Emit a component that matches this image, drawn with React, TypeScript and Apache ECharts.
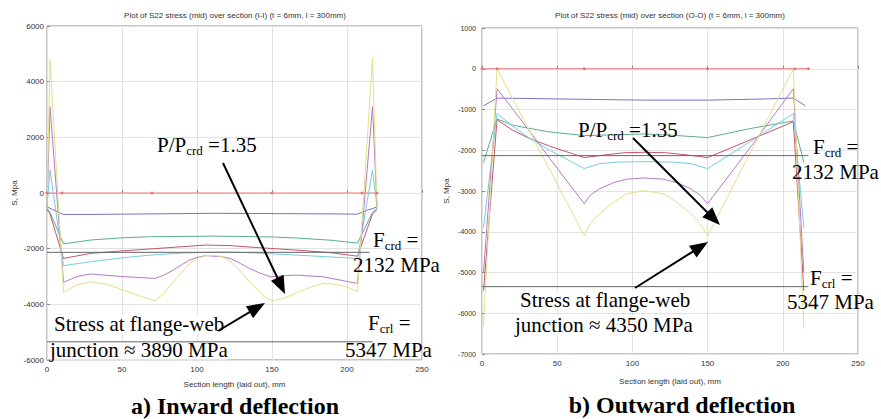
import React, { useEffect, useRef } from "react";
import * as echarts from "echarts";

// ---- Section (I-I): inward deflection, S22 stress [x (mm), S (MPa)] ----
const inwardZero = [[0, 0], [10, 0], [70, 0], [150, 0], [210, 0], [220, 0]];
const inwardPurple = [[0, -500], [2, -550], [11, -770], [30, -770], [70, -750], [110, -730], [150, -740], [190, -750], [207, -760], [214, -610], [218, -540], [220, -500]];
const inwardGreen = [[0, -550], [2, -700], [11, -1830], [29, -1690], [50, -1610], [69, -1570], [110, -1550], [129, -1560], [150, -1580], [167, -1620], [190, -1700], [207, -1800], [217, -700], [220, -550]];
const inwardRed = [[0, -600], [2, -750], [11, -2350], [29, -2170], [50, -2080], [69, -2010], [90, -1930], [106, -1870], [122, -1890], [140, -1960], [166, -2050], [190, -2150], [207, -2270], [217, -750], [220, -600]];
const inwardCyan = [[0, -500], [2, 830], [11, -2610], [29, -2470], [50, -2330], [69, -2230], [90, -2160], [106, -2130], [122, -2120], [140, -2160], [166, -2230], [190, -2300], [207, -2350], [217, 830], [220, -500]];
const inwardMagenta = [[0, -500], [2, 3100], [11, -3210], [20, -3000], [29, -2910], [50, -3000], [72, -3070], [78, -2950], [84, -2770], [90, -2570], [95, -2410], [101, -2300], [106, -2250], [117, -2290], [122, -2350], [129, -2530], [135, -2710], [142, -2880], [149, -3010], [166, -2950], [184, -3010], [207, -3250], [217, 3100], [220, -500]];
const inwardYellow = [[0, -500], [2, 4800], [11, -3570], [20, -3300], [29, -3190], [40, -3280], [51, -3490], [62, -3700], [72, -3880], [78, -3600], [84, -3190], [90, -2850], [95, -2530], [101, -2330], [106, -2250], [112, -2240], [117, -2290], [122, -2450], [129, -2800], [135, -3190], [141, -3500], [146, -3790], [151, -3860], [158, -3780], [166, -3600], [175, -3400], [184, -3250], [192, -3280], [200, -3370], [207, -3550], [217, 4850], [220, -500]];

// ---- Section (O-O): outward deflection ----
const outwardZero = [[0, 0], [10, 0], [68, 0], [150, 0], [208, 0], [217, 0]];
const outwardPurple = [[1, -910], [10, -720], [30, -730], [68, -750], [108, -770], [150, -770], [190, -740], [207, -720], [215, -910]];
const outwardGreen = [[1, -2300], [10, -1230], [20, -1380], [31, -1460], [45, -1550], [68, -1640], [90, -1620], [108, -1600], [130, -1640], [150, -1690], [178, -1470], [207, -1280], [214, -2300]];
const outwardRed = [[1, -5450], [10, -1250], [20, -1500], [31, -1700], [45, -1900], [68, -2180], [85, -2100], [95, -2060], [108, -2050], [122, -2060], [135, -2110], [150, -2180], [178, -1750], [207, -1300], [214, -5450]];
const outwardCyan = [[1, -3900], [10, -1100], [20, -1400], [31, -1690], [45, -2000], [68, -2450], [78, -2330], [90, -2290], [108, -2280], [127, -2290], [139, -2330], [150, -2450], [178, -1800], [207, -1100], [214, -3900]];
const outwardMagenta = [[1, -5000], [10, -490], [31, -1500], [45, -2200], [68, -3310], [72, -3100], [78, -2950], [87, -2800], [96, -2710], [108, -2680], [121, -2710], [130, -2800], [139, -2950], [145, -3100], [150, -3310], [178, -1950], [207, -490], [214, -5000]];
const outwardYellow = [[1, -6300], [10, 0], [68, -4100], [72, -3800], [78, -3560], [87, -3290], [96, -3070], [108, -2990], [121, -3070], [130, -3290], [139, -3560], [145, -3800], [150, -4100], [207, 0], [214, -6380]];

// Critical stresses (MPa)
const fcrd = 2132;
const fcrl = 5347;

const inwardTicksY = { min: -6000, max: 6000, interval: 2000 };
const outwardTicksY = { min: -7000, max: 1000, interval: 1000 };
const xTicks = { min: 0, max: 250, interval: 50 };

const curveColors = ["#7a72c9", "#5aae92", "#c4566e", "#76cde0", "#b679c9", "#e0e088"];
const zeroColor = "#e8747c";
const refColor = "#666666";

const SANS = "Liberation Sans";
const SERIF_STACK = "'Liberation Serif', 'Times New Roman', serif";
const MAIN_FONT = `21px ${SERIF_STACK}`;
const SUB_FONT = `13px ${SERIF_STACK}`;

let measureCtx: CanvasRenderingContext2D | null = null;
function textWidth(text: string, font: string) {
  if (!measureCtx) measureCtx = document.createElement("canvas").getContext("2d");
  if (!measureCtx) return text.length * 9;
  measureCtx.font = font;
  return measureCtx.measureText(text).width;
}

function arrow(x1: number, y1: number, x2: number, y2: number) {
  const dx = x2 - x1;
  const dy = y2 - y1;
  const len = Math.hypot(dx, dy);
  const ux = dx / len;
  const uy = dy / len;
  const hl = 18;
  const hw = 7;
  const bx = x2 - ux * hl;
  const by = y2 - uy * hl;
  const px = -uy;
  const py = ux;
  return [
    { type: "line", z: 20, shape: { x1, y1, x2: bx + ux * 2, y2: by + uy * 2 }, style: { stroke: "#000", lineWidth: 2 } },
    {
      type: "polygon",
      z: 20,
      shape: { points: [[x2, y2], [bx + px * hw, by + py * hw], [bx - px * hw, by - py * hw]] },
      style: { fill: "#000" },
    },
  ];
}

// A line of serif text; parts flagged true are set as subscripts.
function label(parts: [string, boolean][], x: number, y: number, bg?: string) {
  const out: any[] = [];
  let cx = x;
  for (const [t, sub] of parts) {
    const font = sub ? SUB_FONT : MAIN_FONT;
    out.push({
      type: "text",
      z: bg ? 1 : 20,
      x: cx,
      y: sub ? y + 5 : y,
      style: {
        text: t,
        font,
        lineHeight: sub ? 13 : 19,
        fill: "#000",
        align: "left",
        verticalAlign: "middle",
        backgroundColor: bg,
      },
    });
    cx += textWidth(t, font);
  }
  return out;
}

function smallText(text: string, x: number, y: number) {
  return {
    type: "text",
    z: 20,
    x,
    y,
    style: { text, font: `8px '${SANS}'`, fill: "#333", align: "center", verticalAlign: "middle" },
  };
}

function curveSeries(data: number[][], color: string, idx: number) {
  return {
    type: "line",
    xAxisIndex: idx,
    yAxisIndex: idx,
    data,
    showSymbol: false,
    lineStyle: { color, width: 1 },
    itemStyle: { color },
    z: 3,
  };
}

function refSeries(value: number, xEnd: number, idx: number) {
  return {
    type: "line",
    xAxisIndex: idx,
    yAxisIndex: idx,
    data: [[0, -value], [xEnd, -value]],
    showSymbol: false,
    lineStyle: { color: refColor, width: 1 },
    z: 4,
  };
}

function zeroSeries(data: number[][], idx: number) {
  return {
    type: "line",
    xAxisIndex: idx,
    yAxisIndex: idx,
    data,
    symbol: "circle",
    symbolSize: 3,
    lineStyle: { color: zeroColor, width: 1 },
    itemStyle: { color: zeroColor },
    z: 3,
  };
}

const plain = (v: number) => String(v);

function xAxis(idx: number, gap: number) {
  return {
    type: "value",
    gridIndex: idx,
    ...xTicks,
    name: "Section length (laid out), mm",
    nameLocation: "middle",
    nameGap: gap,
    nameTextStyle: { fontFamily: SANS, fontSize: 8, color: "#333" },
    axisLine: { show: false },
    axisTick: { show: true, inside: true, length: 3, lineStyle: { color: "#888" } },
    axisLabel: { fontFamily: SANS, fontSize: 8, color: "#333", margin: 5, formatter: plain },
    splitLine: { show: true, lineStyle: { color: "#e2e2e2", width: 1 } },
  };
}

function yAxis(idx: number, ticks: any, gap: number, fs: number, margin: number) {
  return {
    type: "value",
    gridIndex: idx,
    ...ticks,
    name: "S, Mpa",
    nameLocation: "middle",
    nameGap: gap,
    nameRotate: 90,
    nameTextStyle: { fontFamily: SANS, fontSize: 8, color: "#333" },
    axisLine: { show: false },
    axisTick: { show: true, inside: true, length: 3, lineStyle: { color: "#888" } },
    axisLabel: { fontFamily: SANS, fontSize: fs, color: "#333", margin, formatter: plain },
    splitLine: { show: true, lineStyle: { color: "#e2e2e2", width: 1 } },
  };
}

export default function App() {
  const ref = useRef<HTMLDivElement>(null);

  useEffect(() => {
    if (!ref.current) return;
    const chart = echarts.init(ref.current, undefined, { renderer: "svg" });

    const inwardCurves = [inwardPurple, inwardGreen, inwardRed, inwardCyan, inwardMagenta, inwardYellow];
    const outwardCurves = [outwardPurple, outwardGreen, outwardRed, outwardCyan, outwardMagenta, outwardYellow];

    const caption = (text: string, x: number, y: number) => ({
      type: "text",
      z: 20,
      x,
      y,
      style: { text, font: `bold 24px ${SERIF_STACK}`, fill: "#000", align: "center", verticalAlign: "middle" },
    });

    const graphics: any[] = [
      smallText("Plot of S22 stress (mid) over section (I-I) (t = 6mm, l = 300mm)", 235, 15),
      smallText("Plot of S22 stress (mid) over section (O-O) (t = 6mm, l = 300mm)", 670, 15),

      // inward panel annotations
      ...label([["P/P", false], ["crd", true], [" =1.35", false]], 157, 145),
      ...label([["F", false], ["crd", true], [" =", false]], 373, 240),
      ...label([["2132 MPa", false]], 353, 265),
      ...label([["F", false], ["crl", true], [" =", false]], 368, 323),
      ...label([["5347 MPa", false]], 345, 350),
      ...label([["Stress at flange-web", false]], 54, 324, "#fff"),
      ...label([["junction \u2248 3890 MPa", false]], 50, 350, "#fff"),
      ...arrow(223, 163, 285, 294),
      ...arrow(218, 331, 265, 303),

      // outward panel annotations
      ...label([["P/P", false], ["crd", true], [" =1.35", false]], 578, 130),
      ...label([["F", false], ["crd", true], [" =", false]], 813, 147),
      ...label([["2132 MPa", false]], 792, 172),
      ...label([["F", false], ["crl", true], [" =", false]], 810, 278),
      ...label([["5347 MPa", false]], 787, 302),
      ...label([["Stress at flange-web", false]], 520, 300, "#fff"),
      ...label([["junction \u2248 4350 MPa", false]], 515, 325, "#fff"),
      ...arrow(633, 138, 720, 225),
      ...arrow(635, 288, 708, 242),

      // panel captions
      caption("a) Inward deflection", 235, 406),
      caption("b) Outward deflection", 682, 405),
    ];

    chart.setOption({
      animation: false,
      backgroundColor: "#fff",
      grid: [
        { left: 47, top: 26, width: 375, height: 334, show: true, borderColor: "#8c8c8c", borderWidth: 1, backgroundColor: "transparent" },
        { left: 482, top: 28, width: 376, height: 326, show: true, borderColor: "#8c8c8c", borderWidth: 1, backgroundColor: "transparent" },
      ],
      xAxis: [xAxis(0, 20), xAxis(1, 23)],
      yAxis: [yAxis(0, inwardTicksY, 29, 8, 3), yAxis(1, outwardTicksY, 32, 7, 6)],
      series: [
        zeroSeries(inwardZero, 0),
        ...inwardCurves.map((d, i) => curveSeries(d, curveColors[i], 0)),
        refSeries(fcrd, 215, 0),
        refSeries(fcrl, 217, 0),
        zeroSeries(outwardZero, 1),
        ...outwardCurves.map((d, i) => curveSeries(d, curveColors[i], 1)),
        refSeries(fcrd, 217, 1),
        refSeries(fcrl, 217, 1),
      ],
      graphic: graphics,
    });

    return () => chart.dispose();
  }, []);

  return <div ref={ref} style={{ position: "absolute", left: 0, top: 0, width: 881, height: 419 }} />;
}
